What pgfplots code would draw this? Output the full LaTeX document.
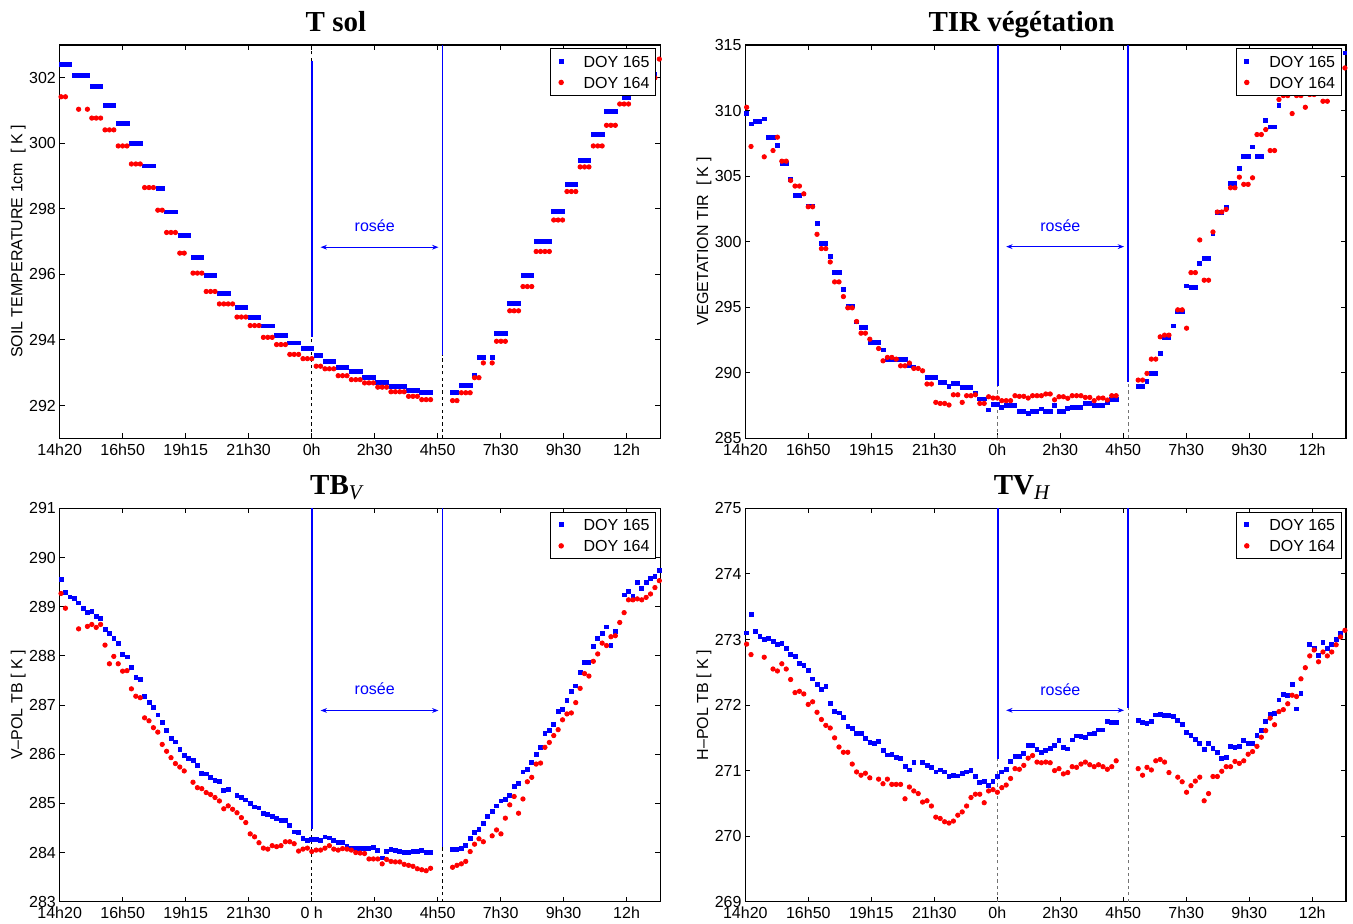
\documentclass[border=0pt]{standalone}
\usepackage{fontspec}
\setmainfont{Liberation Sans}
\newfontfamily\titlefont{Liberation Serif}
\usepackage{pgfplots}
\pgfplotsset{compat=1.18}
\usetikzlibrary{arrows.meta}

\pgfplotsset{
  panel/.style={
    scale only axis, width=300.25pt, height=196.65pt,
    anchor=south west,
    xmin=-0.3, xmax=136.2,
    xtick={-0.3,14.02,28.34,42.65,56.97,71.29,85.61,99.93,114.24,128.56},
    tick pos=both, xticklabel pos=bottom, yticklabel pos=left,
    tick align=inside,
    major tick length=2.5pt,
    every tick/.style={black, line width=0.5pt},
    axis line style={line width=0.7pt},
    tick label style={font=\fontsize{8}{9.6}\selectfont},
    /pgf/number format/assume math mode=true,
    scaled y ticks=false,
    yticklabel style={inner sep=0pt, xshift=-1.7pt},
    xticklabel style={inner sep=0pt, yshift=-2.5pt},
    every axis title/.style={font=\fontsize{14.5}{17}\selectfont\titlefont\bfseries, at={(axis description cs:0.46,1)}, anchor=base, yshift=6.6pt},
    every axis y label/.style={at={(axis description cs:-0.069,0.5)}, rotate=90, anchor=center, font=\fontsize{8}{9.6}\selectfont},
    legend style={at={(axis description cs:0.993,0.992)}, anchor=north east, draw=black, line width=0.5pt, fill=white,
      font=\fontsize{8}{9.6}\selectfont, inner xsep=1pt, inner ysep=1.5pt, row sep=0.7pt,
      nodes={inner sep=2pt, text height=5.8pt, text depth=0pt}},
    legend cell align=left,
    legend image code/.code={\path (0pt,0pt) (13pt,0pt); \draw[#1] plot coordinates {(4pt,0pt)};},
  },
  d165/.style={only marks, mark=square*, blue, mark size=0.95pt},
  d164/.style={only marks, mark=*, red, mark size=1.1pt},
  vdash/.style={black, line width=0.5pt, dash pattern=on 1.6pt off 1.6pt, forget plot},
  vdashg/.style={black!55, line width=0.5pt, dash pattern=on 1.6pt off 1.6pt, forget plot},
  vblue/.style={color={rgb,1:red,0;green,0;blue,1}, line width=0.75pt, forget plot},
  rarrow/.style={blue, line width=0.5pt, <->, >={Stealth[length=3.2pt,width=2.4pt]}, forget plot},
}

\begin{document}
\begin{tikzpicture}
\useasboundingbox (0,0) rectangle (676.5pt,461.5pt);

% ---------------- T sol ----------------
\begin{axis}[panel, at={(29.85pt,242.35pt)},
  ymin=291, ymax=303, ytick={292,294,296,298,300,302},
  xticklabels={14h20,16h50,19h15,21h30,0h,2h30,4h50,7h30,9h30,12h},
  title={T sol}, ylabel={SOIL TEMPERATURE 1cm\ \ [ K ]}]
\addplot[vdash] coordinates {(57,291)(57,294.09)};
\addplot[vdash] coordinates {(57,302.52)(57,303)};
\addplot[vdash] coordinates {(86.7,291)(86.7,293.55)};
\addplot[vblue] coordinates {(57.1,302.52)(57.1,294.09)};
\addplot[vblue] coordinates {(86.7,303)(86.7,293.55)};
\addplot[d165] coordinates {
(0,302.42)(1,302.42)(2,302.42)(3,302.08)(4,302.08)(5,302.08)(6,302.08)
(7,301.73)(8,301.73)(9,301.73)(10,301.16)(11,301.16)(12,301.16)
(13,300.61)(14,300.61)(15,300.61)(16,299.99)(17,299.99)(18,299.99)
(19,299.31)(20,299.31)(21,299.31)(22,298.63)(23,298.63)
(24,297.91)(25,297.91)(26,297.91)(27,297.20)(28,297.20)(29,297.20)
(30,296.53)(31,296.53)(32,296.53)(33,295.96)(34,295.96)(35,295.96)
(36,295.42)(37,295.42)(38,295.42)(40,295.00)(41,295.00)(42,295.00)
(43,294.68)(44,294.68)(45,294.68)(46,294.43)(47,294.43)(48,294.43)
(49,294.15)(50,294.15)(51,294.15)(52,293.91)(53,293.91)(54,293.91)
(55,293.75)(56,293.75)(57,293.75)(58,293.54)(59,293.54)
(60,293.35)(61,293.35)(62,293.35)(63,293.17)(64,293.17)(65,293.17)
(66,293.03)(67,293.03)(68,293.03)(69,292.87)(70,292.87)(71,292.87)
(72,292.71)(73,292.71)(74,292.71)(75,292.58)(76,292.58)(77,292.58)(78,292.58)
(79,292.46)(80,292.46)(81,292.46)(82,292.39)(83,292.39)(84,292.39)
(89,292.39)(90,292.39)(91,292.61)(92,292.61)(93,292.61)(94,292.91)
(95,293.48)(96,293.48)(98,293.48)(99,294.21)(100,294.21)(101,294.21)
(102,295.12)(103,295.12)(104,295.12)(105,295.97)(106,295.97)(107,295.97)
(108,297.00)(109,297.00)(110,297.00)(111,297.00)
(112,297.92)(113,297.92)(114,297.92)(115,298.75)(116,298.75)(117,298.75)
(118,299.49)(119,299.49)(120,299.49)(121,300.27)(122,300.27)(123,300.27)
(124,300.98)(125,300.98)(126,300.98)(128,301.40)(129,301.40)
(130,301.80)(131,301.80)(132,301.80)(133,302.10)(134,302.10)(135,302.10)};
\addplot[d164] coordinates {
(0,301.42)(1,301.42)(4,301.04)(6,301.04)(7,300.77)(8,300.77)(9,300.77)
(10,300.41)(11,300.41)(12,300.41)(13,299.92)(14,299.92)(15,299.92)
(16,299.37)(17,299.37)(18,299.37)(19,298.65)(20,298.65)(21,298.65)
(22,297.96)(23,297.96)(24,297.28)(25,297.28)(26,297.28)(27,296.65)(28,296.65)
(30,296.04)(31,296.04)(32,296.04)(33,295.48)(34,295.48)(35,295.48)
(36,295.10)(37,295.10)(38,295.10)(39,295.10)(40,294.70)(41,294.70)(42,294.70)
(43,294.44)(44,294.44)(45,294.44)(46,294.08)(47,294.08)(48,294.08)
(49,293.86)(50,293.86)(51,293.86)(52,293.56)(53,293.56)(54,293.56)
(55,293.43)(56,293.43)(57,293.43)(58,293.20)(59,293.20)
(60,293.12)(61,293.12)(62,293.12)(63,292.91)(64,292.91)(65,292.91)
(66,292.79)(67,292.79)(68,292.79)(69,292.69)(70,292.69)(71,292.69)
(72,292.56)(73,292.56)(74,292.56)(75,292.42)(76,292.42)(77,292.42)(78,292.42)
(79,292.28)(80,292.28)(81,292.28)(82,292.18)(83,292.18)(84,292.18)
(89,292.15)(90,292.15)(91,292.39)(92,292.39)(93,292.39)(94,292.85)(95,292.85)
(96,293.30)(98,293.30)(99,293.96)(100,293.96)(101,293.96)
(102,294.89)(103,294.89)(104,294.89)(105,295.63)(106,295.63)(107,295.63)
(108,296.70)(109,296.70)(110,296.70)(111,296.70)
(112,297.66)(113,297.66)(114,297.66)(115,298.53)(116,298.53)(117,298.53)
(118,299.28)(119,299.28)(120,299.28)(121,299.92)(122,299.92)(123,299.92)
(124,300.55)(125,300.55)(126,300.55)(127,301.20)(128,301.20)(129,301.20)
(130,301.75)(131,301.75)(132,301.75)(133,302.00)(134,302.00)(135,302.00)(136,302.57)};
\addplot[rarrow] coordinates {(59,296.83)(85.8,296.83)};
\node[blue, font=\fontsize{8}{9.6}\selectfont] at (axis cs:71.3,297.5) {rosée};
\legend{DOY 165,DOY 164}
\end{axis}

% ---------------- TIR vegetation ----------------
\begin{axis}[panel, at={(372.65pt,242.35pt)},
  ymin=285, ymax=315, ytick={285,290,295,300,305,310,315},
  xticklabels={14h20,16h50,19h15,21h30,0h,2h30,4h50,7h30,9h30,12h},
  title={TIR végétation}, ylabel={VEGETATION TIR\ \ [ K ]}]
\addplot[vdashg] coordinates {(57,285)(57,289.0)};
\addplot[vdashg] coordinates {(86.7,285)(86.7,289.26)};
\addplot[vblue] coordinates {(57.1,315)(57.1,289.0)};
\addplot[vblue] coordinates {(86.7,315)(86.7,289.26)};
\addplot[d165] coordinates {
(0,309.77)(1,308.98)(2,309.19)(3,309.19)(4,309.37)(5,307.97)(6,307.97)(7,307.36)
(8,305.96)(9,305.96)(10,304.75)(11,303.55)(12,303.55)(13,303.65)(14,302.72)(15,302.72)
(16,301.37)(17,299.87)(18,299.87)(19,298.86)(20,297.64)(21,297.64)(22,296.37)
(23,295.10)(24,295.10)(25,293.88)(26,293.43)(27,293.43)(28,292.33)(29,292.33)(30,292.33)
(31,291.75)(32,291.04)(33,291.04)(34,291.04)(35,291.04)(36,291.04)(37,290.55)(38,290.45)
(41,289.65)(42,289.65)(43,289.65)(44,289.24)(45,289.24)(46,288.93)(47,289.19)(48,289.19)
(49,288.86)(50,288.86)(51,288.86)(52,288.45)(53,288.00)(54,288.00)(55,287.16)
(56,287.61)(57,287.61)(58,287.36)(59,287.54)(60,287.49)(61,287.49)(62,287.03)(63,287.03)
(64,286.90)(65,287.06)(66,287.06)(67,287.25)(68,287.03)(69,287.03)(70,287.49)(71,287.03)
(72,287.03)(73,287.28)(74,287.36)(75,287.36)(76,287.36)(77,287.64)(78,287.64)
(79,287.54)(80,287.54)(81,287.54)(82,287.74)(83,287.94)(84,287.94)
(89,288.93)(90,288.93)(91,289.34)(92,289.95)(93,289.95)(94,291.47)(95,292.69)(96,292.69)
(97,293.58)(98,294.64)(99,294.64)(100,296.62)(101,296.50)(102,296.50)(103,298.32)
(104,298.73)(105,298.73)(106,300.61)(107,302.26)(108,302.26)(109,302.59)(110,304.44)
(111,304.44)(112,305.56)(113,306.52)(114,306.52)(115,307.23)(116,306.52)(117,306.52)
(118,309.26)(119,308.76)(120,308.76)(121,310.38)(123,311.9)(125,312.2)(128,312.6)
(130,313.0)(133,313.6)(136,314.4)};
\addplot[d164] coordinates {
(0,310.25)(1,307.26)(4,306.47)(6,306.95)(7,307.97)(8,306.14)(9,306.14)(10,304.67)
(11,304.24)(12,304.24)(13,303.65)(14,302.66)(15,302.66)(16,300.56)(17,299.47)(18,299.47)
(19,298.45)(20,296.93)(21,296.93)(22,295.81)(23,294.95)(24,294.95)(25,293.91)
(26,293.02)(27,293.02)(28,292.56)(30,291.85)(31,290.91)(32,291.17)(33,291.17)(34,291.04)
(35,290.53)(36,290.53)(37,290.74)(38,290.33)(39,290.33)(40,290.15)(41,289.14)(42,289.14)
(43,287.74)(44,287.66)(45,287.66)(46,287.54)(47,288.32)(48,288.32)(49,287.74)(50,288.25)
(51,288.25)(52,288.32)(53,287.66)(54,287.66)(55,288.17)(56,288.07)(57,288.07)(58,287.87)
(59,287.87)(60,287.87)(61,288.25)(62,288.20)(63,288.20)(64,288.07)(65,288.25)(66,288.25)
(67,288.25)(68,288.38)(69,288.38)(70,287.94)(71,288.17)(72,288.17)(73,288.05)(74,288.25)
(75,288.25)(76,288.25)(77,288.12)(78,288.12)(79,287.87)(80,288.07)(81,288.07)(82,287.92)
(83,288.25)(84,288.25)
(89,289.44)(90,289.44)(91,289.95)(92,291.04)(93,291.04)(94,292.74)(95,292.87)(96,292.87)
(98,294.80)(99,294.80)(100,293.40)(101,297.64)(102,297.64)(103,300.13)(104,297.06)
(105,297.06)(106,300.74)(107,302.26)(108,302.26)(109,302.46)(110,304.11)(111,304.11)
(112,304.92)(113,304.37)(114,304.37)(115,304.87)(116,308.17)(117,308.17)(118,308.55)
(119,306.95)(120,306.95)(121,310.84)(122,311.14)(123,311.14)(124,309.77)(125,311.14)
(126,311.14)(127,310.25)(128,311.22)(129,311.22)(131,310.71)(132,310.71)(136,313.25)};
\addplot[rarrow] coordinates {(59,299.62)(85.8,299.62)};
\node[blue, font=\fontsize{8}{9.6}\selectfont] at (axis cs:71.3,301.24) {rosée};
\legend{DOY 165,DOY 164}
\end{axis}

% ---------------- TB_V ----------------
\begin{axis}[panel, at={(29.85pt,10.65pt)},
  ymin=283, ymax=291, ytick={283,284,285,286,287,288,289,290,291},
  xticklabels={14h20,16h50,19h15,21h30,0 h,2h30,4h50,7h30,9h30,12h},
  title style={yshift=0.5pt},
  title={TB\raisebox{-2.6pt}{\fontsize{10.5}{10.5}\selectfont\mdseries\itshape V}},
  ylabel={V--POL TB [ K ]}]
\addplot[vdash] coordinates {(57,283)(57,284.47)};
\addplot[vdash] coordinates {(86.7,283)(86.7,284.12)};
\addplot[vblue] coordinates {(57.1,291)(57.1,284.47)};
\addplot[vblue] coordinates {(86.7,291)(86.7,284.12)};
\addplot[d165] coordinates {
(0,289.55)(1,289.30)(2,289.20)(3,289.17)(4,289.08)(5,288.96)(6,288.88)(7,288.91)(8,288.81)
(9,288.76)(10,288.54)(11,288.46)(12,288.36)(13,288.26)(14,288.03)(15,287.98)(16,287.76)
(17,287.57)(18,287.52)(19,287.18)(20,287.06)(21,286.95)(22,286.80)(23,286.64)(24,286.49)
(25,286.33)(26,286.25)(27,286.10)(28,285.97)(29,285.91)(30,285.88)(31,285.78)(32,285.61)
(33,285.60)(34,285.53)(35,285.46)(36,285.45)(37,285.26)(38,285.28)(40,285.17)(41,285.13)
(42,285.07)(43,285.00)(44,284.93)(45,284.91)(46,284.80)(47,284.78)(48,284.73)(49,284.69)
(50,284.66)(51,284.65)(52,284.55)(53,284.42)(54,284.41)(55,284.28)(56,284.25)(57,284.26)
(58,284.27)(59,284.25)(60,284.32)(61,284.30)(62,284.25)(63,284.21)(64,284.20)(65,284.13)
(66,284.08)(67,284.08)(68,284.09)(69,284.09)(70,284.09)(71,284.10)(72,284.04)(73,283.89)
(74,284.02)(75,284.07)(76,284.04)(77,284.02)(78,284.01)(79,284.01)(80,284.02)(81,284.03)
(82,284.05)(83,284.01)(84,284.00)
(89,284.07)(90,284.07)(91,284.08)(92,284.14)(93,284.29)(94,284.41)(95,284.47)(96,284.59)
(97,284.73)(98,284.83)(99,284.95)(100,285.05)(101,285.08)(102,285.17)(103,285.35)
(104,285.41)(105,285.64)(106,285.69)(107,285.83)(108,285.99)(109,286.14)(110,286.42)
(111,286.49)(112,286.60)(113,286.87)(114,286.91)(115,287.09)(116,287.28)(117,287.39)
(118,287.66)(119,287.86)(120,287.87)(121,288.20)(122,288.36)(123,288.45)(124,288.59)
(125,288.22)(126,288.50)(128,289.24)(129,289.31)(130,289.22)(131,289.49)(132,289.38)
(133,289.49)(134,289.58)(135,289.61)(136,289.74)};
\addplot[d164] coordinates {
(0,289.27)(1,288.97)(4,288.55)(6,288.60)(7,288.64)(8,288.58)(9,288.64)(10,288.22)
(11,287.84)(12,287.99)(13,287.84)(14,287.69)(15,287.70)(16,287.33)(17,287.18)(18,287.15)
(19,286.74)(20,286.68)(21,286.54)(22,286.45)(23,286.20)(24,286.06)(25,285.93)(26,285.81)
(27,285.74)(28,285.66)(30,285.43)(31,285.32)(32,285.30)(33,285.22)(34,285.18)(35,285.12)
(36,285.05)(37,284.89)(38,284.95)(39,284.88)(40,284.81)(41,284.71)(42,284.61)(43,284.38)
(44,284.32)(45,284.20)(46,284.09)(47,284.07)(48,284.14)(49,284.12)(50,284.14)(51,284.22)
(52,284.22)(53,284.18)(54,284.03)(55,284.07)(56,284.09)(57,284.02)(58,284.05)(59,284.05)
(60,284.09)(61,284.14)(62,284.07)(63,284.05)(64,284.08)(65,284.07)(66,284.05)(67,284.00)
(68,283.99)(69,283.98)(70,283.87)(71,283.87)(72,283.87)(73,283.77)(74,283.86)(75,283.82)
(76,283.81)(77,283.81)(78,283.76)(79,283.74)(80,283.72)(81,283.67)(82,283.65)(83,283.63)
(84,283.68)
(89,283.70)(90,283.74)(91,283.77)(92,283.82)(93,284.02)(94,284.17)(95,284.28)(96,284.22)
(98,284.34)(99,284.46)(100,284.38)(101,284.70)(102,284.97)(103,285.14)(104,284.80)
(105,285.09)(106,285.44)(107,285.53)(108,285.80)(109,285.82)(110,286.14)(111,286.24)
(112,286.38)(113,286.50)(114,286.70)(115,286.82)(116,286.84)(117,287.05)(118,287.34)
(119,287.64)(120,287.59)(121,287.89)(122,288.04)(123,288.26)(124,288.21)(125,288.39)
(126,288.41)(127,288.68)(128,288.88)(129,289.14)(130,289.14)(131,289.16)(132,289.14)
(133,289.19)(134,289.26)(135,289.39)(136,289.53)};
\addplot[rarrow] coordinates {(59,286.89)(85.8,286.89)};
\node[blue, font=\fontsize{8}{9.6}\selectfont] at (axis cs:71.3,287.33) {rosée};
\legend{DOY 165,DOY 164}
\end{axis}

% ---------------- TV_H ----------------
\begin{axis}[panel, at={(372.65pt,10.65pt)},
  ymin=269, ymax=275, ytick={269,270,271,272,273,274,275},
  xticklabels={14h20,16h50,19h15,21h30,0h,2h30,4h50,7h30,9h30,12h},
  title style={yshift=0.5pt},
  title={TV\raisebox{-2.6pt}{\fontsize{10.5}{10.5}\selectfont\mdseries\itshape H}},
  ylabel={H--POL TB [ K ]}]
\addplot[vdashg] coordinates {(57,269)(57,271.17)};
\addplot[vdashg] coordinates {(86.7,269)(86.7,271.95)};
\addplot[vblue] coordinates {(57.1,275)(57.1,271.17)};
\addplot[vblue] coordinates {(86.7,275)(86.7,271.95)};
\addplot[d165] coordinates {
(0,273.10)(1,273.38)(2,273.12)(3,273.05)(4,273.00)(5,273.02)(6,272.97)(7,272.93)(8,272.94)
(9,272.86)(10,272.77)(11,272.74)(12,272.64)(13,272.60)(14,272.53)(15,272.40)(16,272.32)
(17,272.24)(18,272.28)(19,272.02)(20,271.90)(21,271.88)(22,271.81)(23,271.68)(24,271.64)
(25,271.57)(26,271.57)(27,271.49)(28,271.43)(29,271.42)(30,271.44)(31,271.31)(32,271.24)
(33,271.25)(34,271.20)(35,271.19)(36,271.07)(37,271.01)(38,271.12)(40,271.12)(41,271.08)
(42,271.05)(43,270.98)(44,271.01)(45,270.98)(46,270.91)(47,270.93)(48,270.92)(49,270.96)
(50,270.98)(51,271.00)(52,270.91)(53,270.82)(54,270.83)(55,270.78)(56,270.83)(57,270.91)
(58,270.98)(59,271.02)(60,271.14)(61,271.22)(62,271.22)(63,271.26)(64,271.38)(65,271.39)
(66,271.32)(67,271.28)(68,271.31)(69,271.34)(70,271.39)(71,271.46)(72,271.36)(73,271.33)
(74,271.47)(75,271.53)(76,271.52)(77,271.51)(78,271.56)(79,271.57)(80,271.62)(81,271.62)
(82,271.75)(83,271.73)(84,271.73)
(89,271.76)(90,271.74)(91,271.72)(92,271.75)(93,271.85)(94,271.86)(95,271.84)(96,271.84)
(97,271.83)(98,271.76)(99,271.70)(100,271.58)(101,271.54)(102,271.48)(103,271.42)
(104,271.32)(105,271.41)(106,271.34)(107,271.28)(108,271.19)(109,271.20)(110,271.37)
(111,271.35)(112,271.37)(113,271.46)(114,271.41)(115,271.42)(116,271.54)(117,271.61)
(118,271.75)(119,271.86)(120,271.87)(121,272.08)(122,272.16)(123,272.15)(124,272.31)
(125,271.94)(126,272.18)(128,272.93)(129,272.86)(130,272.76)(131,272.95)(132,272.87)
(133,272.93)(134,273.00)(135,273.09)};
\addplot[d164] coordinates {
(0,272.93)(1,272.77)(4,272.73)(6,272.55)(7,272.52)(8,272.63)(9,272.55)(10,272.39)
(11,272.19)(12,272.21)(13,272.17)(14,272.01)(15,272.05)(16,271.89)(17,271.78)(18,271.69)
(19,271.65)(20,271.50)(21,271.36)(22,271.28)(23,271.28)(24,271.10)(25,270.98)(26,270.93)
(27,270.96)(28,270.89)(30,270.87)(31,270.80)(32,270.87)(33,270.79)(34,270.79)(35,270.79)
(36,270.57)(37,270.75)(38,270.69)(39,270.65)(40,270.52)(41,270.54)(42,270.46)(43,270.29)
(44,270.27)(45,270.22)(46,270.20)(47,270.23)(48,270.32)(49,270.37)(50,270.46)(51,270.59)
(52,270.64)(53,270.64)(54,270.51)(55,270.69)(56,270.71)(57,270.67)(58,270.74)(59,270.78)
(60,270.88)(61,271.03)(62,271.02)(63,271.08)(64,271.19)(65,271.23)(66,271.13)(67,271.12)
(68,271.13)(69,271.12)(70,271.00)(71,271.03)(72,270.95)(73,270.97)(74,271.06)(75,271.05)
(76,271.10)(77,271.13)(78,271.09)(79,271.06)(80,271.09)(81,271.06)(82,271.02)(83,271.06)
(84,271.15)
(89,271.03)(90,270.93)(91,271.05)(92,271.01)(93,271.15)(94,271.17)(95,271.13)(96,270.97)
(98,270.90)(99,270.83)(100,270.67)(101,270.77)(102,270.84)(103,270.90)(104,270.54)
(105,270.65)(106,270.91)(107,270.91)(108,270.99)(109,271.06)(110,271.06)(111,271.14)
(112,271.11)(113,271.15)(114,271.25)(115,271.29)(116,271.37)(117,271.51)(118,271.61)
(119,271.80)(120,271.70)(121,271.90)(122,271.93)(123,272.02)(124,272.15)(125,272.13)
(126,272.40)(127,272.57)(128,272.75)(129,272.84)(130,272.66)(131,272.81)(132,272.75)
(133,272.81)(134,272.92)(135,273.04)(136,273.14)};
\addplot[rarrow] coordinates {(59,271.92)(85.8,271.92)};
\node[blue, font=\fontsize{8}{9.6}\selectfont] at (axis cs:71.3,272.24) {rosée};
\legend{DOY 165,DOY 164}
\end{axis}
\end{tikzpicture}
\end{document}
